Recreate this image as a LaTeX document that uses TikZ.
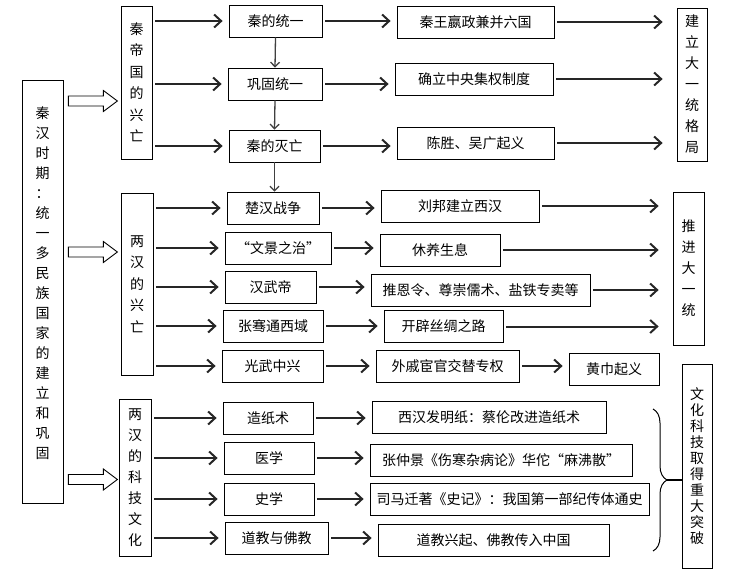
\documentclass[tikz,border=0pt]{standalone}
\usepackage{fontspec}
\newfontfamily\cjk{Noto Sans CJK SC}
\usetikzlibrary{arrows.meta,decorations.pathreplacing}

\begin{document}
\begin{tikzpicture}[x=1pt, y=-1pt,
  box/.style = {draw, line width=0.8pt, minimum height=32, inner sep=0pt, font=\cjk\fontsize{14}{16}\selectfont},
  vbox/.style = {draw, line width=0.8pt, inner sep=0pt, align=center, font=\cjk\fontsize{14}{#1}\selectfont},
  arr/.style = {line width=2pt, draw=black!85, -{Straight Barb[length=7pt,width=13pt]}, shorten <=3pt, shorten >=6pt},
  far/.style = {arr, shorten >=14pt},
  down/.style = {line width=1.3pt, draw=black!75, -{Straight Barb[length=4.5pt,width=9pt]}},
  fatarrow/.pic = {\draw[line width=0.9pt, fill=white] (5,-5) -- (40,-5) -- (40,-10.5) -- (54,0) -- (40,10.5) -- (40,5) -- (5,5) -- cycle;}]

    \useasboundingbox (0,0) rectangle (741,581);

    % main title and groups
    \node[vbox=20, minimum width=41, minimum height=423] (main) at (42.5,291.5)
      {秦\\汉\\时\\期\\：\\统\\一\\多\\民\\族\\国\\家\\的\\建\\立\\和\\巩\\固\\[-2pt]\mbox{}};
    \node[vbox=21.5, minimum width=31, minimum height=153] (qinG) at (136.5,82.5) {秦\\帝\\国\\的\\兴\\亡};
    \node[vbox=21.5, minimum width=32, minimum height=182] (hanG) at (137,284) {两\\汉\\的\\兴\\亡};
    \node[vbox=21, minimum width=32, minimum height=157] (culG) at (135,477.5) {两\\汉\\的\\科\\技\\文\\化};

    \coordinate (f1) at (0,101);
    \coordinate (f2) at (0,252);
    \coordinate (f3) at (0,479.5);
    \pic at (main.east |- f1) {fatarrow};
    \pic at (main.east |- f2) {fatarrow};
    \pic at (main.east |- f3) {fatarrow};

    % results
    \node[vbox=21, minimum width=30, minimum height=153] (jl) at (692,84.5) {建\\立\\大\\一\\统\\格\\局};
    \node[vbox=21, minimum width=31, minimum height=153] (tj) at (688.5,268.5) {推\\进\\大\\一\\统};
    \node[vbox=16, minimum width=30, minimum height=204] (wh) at (697,466) {文\\化\\科\\技\\取\\得\\重\\大\\突\\破};

    % qin
    \node[box, minimum width=93] (q1) at (275.5,21) {秦的统一};
    \node[box, minimum width=94] (q2) at (275,84) {巩固统一};
    \node[box, minimum width=91] (q3) at (274.5,146) {秦的灭亡};
    \node[box, minimum width=157] (r1) at (475.5,22) {秦王嬴政兼并六国};
    \node[box, minimum width=158] (r2) at (474,79) {确立中央集权制度};
    \node[box, minimum width=157] (r3) at (475.5,143) {陈胜、吴广起义};

    % han
    \node[box, minimum width=92] (h1) at (273,208) {楚汉战争};
    \node[box, minimum width=106] (h2) at (278,248) {“文景之治”};
    \node[box, minimum width=91] (h3) at (270.5,287) {汉武帝};
    \node[box, minimum width=100] (h4) at (273,326) {张骞通西域};
    \node[box, minimum width=101] (h5) at (272.5,366) {光武中兴};
    \node[box, minimum width=158] (s1) at (460,206) {刘邦建立西汉};
    \node[box, minimum width=120] (s2) at (440,250) {休养生息};
    \node[box, minimum width=219] (s3) at (480.5,290) {推恩令、尊崇儒术、盐铁专卖等};
    \node[box, minimum width=119] (s4) at (443.5,326.5) {开辟丝绸之路};
    \node[box, minimum width=143] (s5) at (447.5,366) {外戚宦官交替专权};
    \node[box, minimum width=90] (s6) at (614,369) {黄巾起义};

    % culture
    \node[box, minimum width=90] (c1) at (268,418) {造纸术};
    \node[box, minimum width=90] (c2) at (269,458) {医学};
    \node[box, minimum width=90] (c3) at (269,499) {史学};
    \node[box, minimum width=103] (c4) at (276.5,538) {道教与佛教};
    \node[box, minimum width=234] (d1) at (489,417.5) {西汉发明纸：蔡伦改进造纸术};
    \node[box, minimum width=262] (d2) at (501,460) {张仲景《伤寒杂病论》华佗“麻沸散”};
    \node[box, minimum width=279] (d3) at (509.5,499) {司马迁著《史记》：我国第一部纪传体通史};
    \node[box, minimum width=231] (d4) at (493.5,540) {道教兴起、佛教传入中国};

    % arrows
    \foreach \n in {q1,q2,q3} \draw[arr] (qinG.east |- \n) -- (\n.west);
    \foreach \n in {h1,h2,h3,h4,h5} \draw[arr] (hanG.east |- \n) -- (\n.west);
    \foreach \n in {c1,c2,c3,c4} \draw[arr] (culG.east |- \n) -- (\n.west);

    \draw[down] (q1.south) -- (q2.north);
    \draw[down] (q2.south) -- (q3.north);
    \draw[down] (q3.south) -- (q3.south |- h1.north);

    \foreach \a/\b in {q1/r1,q2/r2,q3/r3,h1/s1,h2/s2,h3/s3,h4/s4,h5/s5,s5/s6,c1/d1,c2/d2,c3/d3,c4/d4}
      \draw[arr] (\a.east) -- (\a.east -| \b.west);
    \foreach \n in {r1,r2,r3} \draw[far] (\n.east) -- (\n.east -| jl.west);
    \foreach \n in {s1,s2,s3,s4} \draw[far] (\n.east) -- (\n.east -| tj.west);

    % brace
    \draw[line width=1pt, decorate, decoration={brace, amplitude=14pt}] (653,409) -- (653,551);
    \coordinate (tip) at (667,480);
    \draw[line width=1.6pt] (tip) -- (tip -| wh.west);

\end{tikzpicture}
\end{document}
